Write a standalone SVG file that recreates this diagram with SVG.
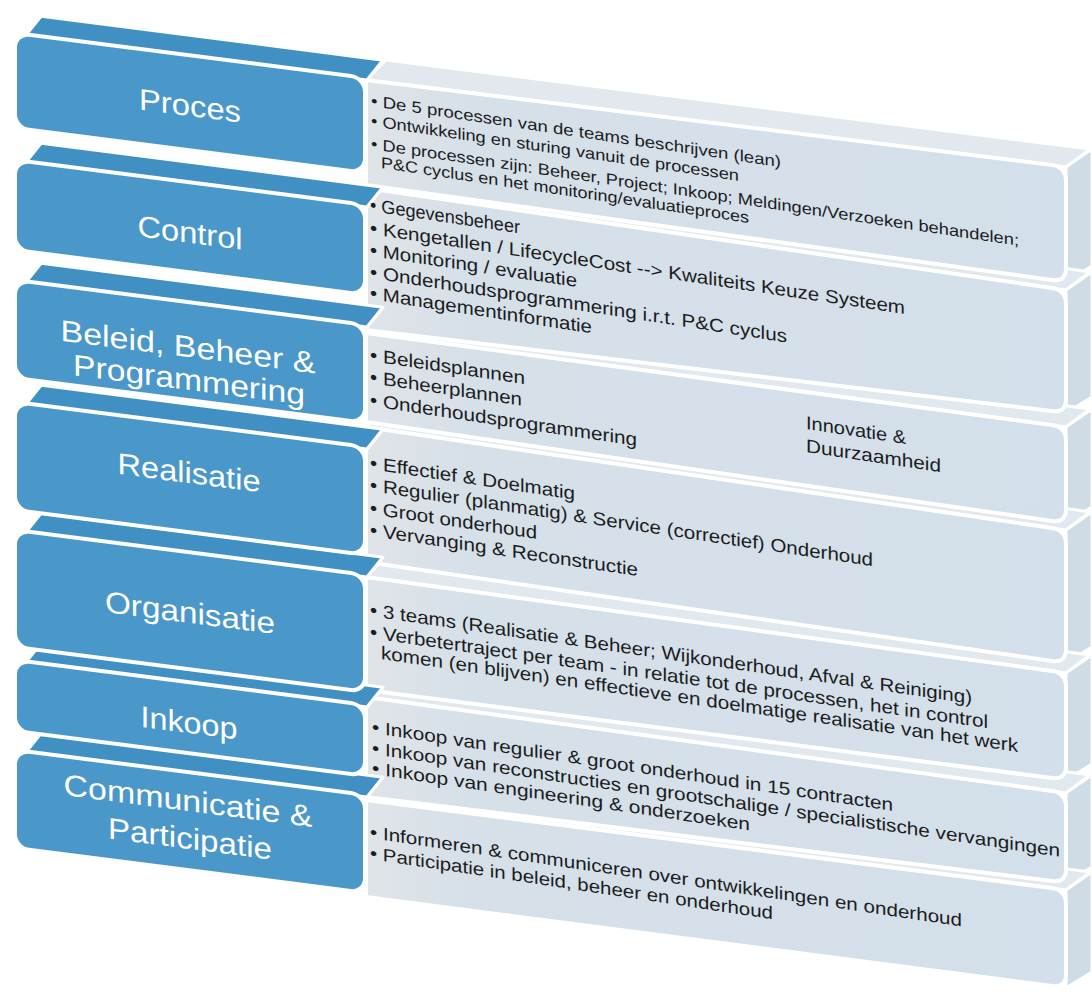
<svg xmlns="http://www.w3.org/2000/svg" width="1092" height="996" viewBox="0 0 1092 996">
<style>
.face{fill:#4a97c9;stroke:#fff;stroke-width:4;stroke-linejoin:round}
.top{fill:#4090c4;stroke:#fff;stroke-width:3;stroke-linejoin:round}
.lbl{font-family:"Liberation Sans",Arial,sans-serif;fill:#fff;font-size:30px;text-anchor:middle}
.pf{fill:url(#pg);stroke:#fff;stroke-width:4;stroke-linejoin:round}
.pt{fill:#e1e8ee;stroke:#fff;stroke-width:3;stroke-linejoin:round}
.ps{fill:#cfdbe5;stroke:#fff;stroke-width:3;stroke-linejoin:round}
.tx{font-family:"Liberation Sans",Arial,sans-serif;fill:#1c1c1c;font-size:18.5px}
.t15{font-size:16px}
.t17{font-size:18px}
</style>
<defs>
<linearGradient id="pg" x1="366" y1="0" x2="1066" y2="0" gradientUnits="userSpaceOnUse">
<stop offset="0" stop-color="#dfe4e8"/>
<stop offset="0.15" stop-color="#d6e0e9"/>
<stop offset="1" stop-color="#d3dfea"/>
</linearGradient>
</defs>

<g id="panel-faces">
<polygon class="pt" points="366,80 1066,167 1090,149 386,60"/>
<polygon class="ps" points="1066,167 1092,149 1092,266 1066,282"/>
<polygon class="pt" points="366,188 1066,290 1090,272 386,168"/>
<polygon class="ps" points="1066,290 1092,272 1092,397 1066,413"/>
<polygon class="pt" points="366,333 1066,427 1090,409 386,313"/>
<polygon class="ps" points="1066,427 1092,409 1092,507 1066,523"/>
<polygon class="pt" points="366,427 1066,530 1090,512 386,407"/>
<polygon class="ps" points="1066,530 1092,512 1092,647 1066,663"/>
<polygon class="pt" points="366,577 1066,673 1090,655 386,557"/>
<polygon class="ps" points="1066,673 1092,655 1092,764 1066,780"/>
<polygon class="pt" points="366,697 1066,793 1090,775 386,677"/>
<polygon class="ps" points="1066,793 1092,775 1092,867 1066,883"/>
<polygon class="pt" points="366,800 1066,890 1090,872 386,780"/>
<polygon class="ps" points="1066,890 1092,872 1092,972 1066,988"/>
</g>

<g id="panel-proces"><path class="pf" d="M366,80 L1052,165 Q1066,167 1066,181 L1066,268 Q1066,282 1052,280 L366,185 Z"/></g>
<g id="panel-control"><path class="pf" d="M366,188 L1052,288 Q1066,290 1066,304 L1066,399 Q1066,413 1052,411 L366,330 Z"/></g>
<g id="panel-beleid"><path class="pf" d="M366,333 L1052,425 Q1066,427 1066,441 L1066,509 Q1066,523 1052,521 L366,422 Z"/></g>
<g id="panel-realisatie"><path class="pf" d="M366,427 L1052,528 Q1066,530 1066,544 L1066,649 Q1066,663 1052,661 L366,562 Z"/></g>
<g id="panel-organisatie"><path class="pf" d="M366,577 L1052,671 Q1066,673 1066,687 L1066,766 Q1066,780 1052,778 L366,690 Z"/></g>
<g id="panel-inkoop"><path class="pf" d="M366,697 L1052,791 Q1066,793 1066,807 L1066,869 Q1066,883 1052,881 L366,797 Z"/></g>
<g id="panel-communicatie"><path class="pf" d="M366,800 L1052,888 Q1066,890 1066,904 L1066,974 Q1066,988 1052,986 L366,897 Z"/></g>

<g id="box-tops">
<polygon class="top" transform="translate(15,33) skewY(7.3)" points="10,2 352,2 368,-20 26,-20"/>
<polygon class="top" transform="translate(15,160) skewY(7.3)" points="10,2 352,2 368,-20 26,-20"/>
<polygon class="top" transform="translate(15,280) skewY(7.3)" points="10,2 352,2 368,-20 26,-20"/>
<polygon class="top" transform="translate(15,402) skewY(7.3)" points="10,2 352,2 368,-20 26,-20"/>
<polygon class="top" transform="translate(15,530) skewY(7.3)" points="10,2 352,2 368,-20 26,-20"/>
<polygon class="top" transform="translate(15,660) skewY(7.3)" points="10,2 352,2 368,-20 26,-20"/>
<polygon class="top" transform="translate(15,750) skewY(7.3)" points="10,2 352,2 368,-20 26,-20"/>
</g>

<g id="box-proces"><rect class="face" transform="translate(15,33) skewY(7.3)" width="350" height="95" rx="14"/>
<text class="lbl" transform="translate(190,116) skewY(7.3)" textLength="102" lengthAdjust="spacingAndGlyphs">Proces</text></g>
<g id="box-control"><rect class="face" transform="translate(15,160) skewY(7.3)" width="350" height="90" rx="14"/>
<text class="lbl" transform="translate(190,243) skewY(7.3)" textLength="105" lengthAdjust="spacingAndGlyphs">Control</text></g>
<g id="box-beleid"><rect class="face" transform="translate(15,280) skewY(7.3)" width="350" height="98" rx="14"/>
<text class="lbl" transform="translate(188,357) skewY(7.3)" textLength="255" lengthAdjust="spacingAndGlyphs">Beleid, Beheer &amp;</text>
<text class="lbl" transform="translate(189,390) skewY(7.3)" textLength="232" lengthAdjust="spacingAndGlyphs">Programmering</text></g>
<g id="box-realisatie"><rect class="face" transform="translate(15,402) skewY(7.3)" width="350" height="108" rx="14"/>
<text class="lbl" transform="translate(189,483) skewY(7.3)" textLength="143" lengthAdjust="spacingAndGlyphs">Realisatie</text></g>
<g id="box-organisatie"><rect class="face" transform="translate(15,530) skewY(7.3)" width="350" height="117" rx="14"/>
<text class="lbl" transform="translate(190,623) skewY(7.3)" textLength="170" lengthAdjust="spacingAndGlyphs">Organisatie</text></g>
<g id="box-inkoop"><rect class="face" transform="translate(15,660) skewY(7.3)" width="350" height="71" rx="14"/>
<text class="lbl" transform="translate(189,733) skewY(7.3)" textLength="97" lengthAdjust="spacingAndGlyphs">Inkoop</text></g>
<g id="box-communicatie"><rect class="face" transform="translate(15,750) skewY(7.3)" width="350" height="98" rx="14"/>
<text class="lbl" transform="translate(188,811) skewY(7.3)" textLength="249" lengthAdjust="spacingAndGlyphs">Communicatie &amp;</text>
<text class="lbl" transform="translate(190,849) skewY(7.3)" textLength="164" lengthAdjust="spacingAndGlyphs">Participatie</text></g>

<g id="text-proces" class="tx t15">
<text transform="translate(371,106) skewY(8.5)" textLength="410" lengthAdjust="spacingAndGlyphs">• De 5 processen van de teams beschrijven (lean)</text>
<text transform="translate(371,126) skewY(8.5)" textLength="368" lengthAdjust="spacingAndGlyphs">• Ontwikkeling  en sturing vanuit de processen</text>
<text transform="translate(371,149) skewY(8.5)" textLength="648" lengthAdjust="spacingAndGlyphs">• De processen zijn: Beheer, Project; Inkoop; Meldingen/Verzoeken  behandelen;</text>
<text transform="translate(381,168) skewY(8.5)" textLength="368" lengthAdjust="spacingAndGlyphs">P&amp;C cyclus en het monitoring/evaluatieproces</text>
</g>
<g id="text-control" class="tx">
<text transform="translate(370,211) skewY(8.5)" textLength="150" lengthAdjust="spacingAndGlyphs">• Gegevensbeheer</text>
<text transform="translate(370,234) skewY(8.5)" textLength="535" lengthAdjust="spacingAndGlyphs">• Kengetallen / LifecycleCost --&gt; Kwaliteits Keuze Systeem</text>
<text transform="translate(370,256) skewY(8.5)" textLength="207" lengthAdjust="spacingAndGlyphs">• Monitoring / evaluatie</text>
<text transform="translate(370,278) skewY(8.8)" textLength="417" lengthAdjust="spacingAndGlyphs">• Onderhoudsprogrammering i.r.t. P&amp;C cyclus</text>
<text transform="translate(370,299) skewY(8.8)" textLength="222" lengthAdjust="spacingAndGlyphs">• Managementinformatie</text>
</g>
<g id="text-beleid" class="tx">
<text transform="translate(370,361) skewY(8.5)" textLength="155" lengthAdjust="spacingAndGlyphs">• Beleidsplannen</text>
<text transform="translate(370,383) skewY(8.5)" textLength="152" lengthAdjust="spacingAndGlyphs">• Beheerplannen</text>
<text transform="translate(370,406) skewY(8.5)" textLength="267" lengthAdjust="spacingAndGlyphs">• Onderhoudsprogrammering</text>
<text transform="translate(806,429) skewY(8.5)" textLength="100" lengthAdjust="spacingAndGlyphs">Innovatie &amp;</text>
<text transform="translate(806,452) skewY(8.5)" textLength="135" lengthAdjust="spacingAndGlyphs">Duurzaamheid</text>
</g>
<g id="text-realisatie" class="tx">
<text transform="translate(370,469) skewY(8.5)" textLength="205" lengthAdjust="spacingAndGlyphs">• Effectief &amp; Doelmatig</text>
<text transform="translate(370,491) skewY(8.5)" textLength="503" lengthAdjust="spacingAndGlyphs">• Regulier (planmatig) &amp; Service (correctief) Onderhoud</text>
<text transform="translate(370,514) skewY(8.5)" textLength="167" lengthAdjust="spacingAndGlyphs">• Groot onderhoud</text>
<text transform="translate(370,536) skewY(8.5)" textLength="268" lengthAdjust="spacingAndGlyphs">• Vervanging &amp; Reconstructie</text>
</g>
<g id="text-organisatie" class="tx">
<text transform="translate(370,616) skewY(8.3)" textLength="602" lengthAdjust="spacingAndGlyphs">• 3 teams (Realisatie &amp; Beheer; Wijkonderhoud, Afval &amp; Reiniging)</text>
<text transform="translate(370,638) skewY(8.3)" textLength="618" lengthAdjust="spacingAndGlyphs">• Verbetertraject per team - in relatie tot de processen, het in control</text>
<text transform="translate(381,659) skewY(8.3)" textLength="637" lengthAdjust="spacingAndGlyphs">komen (en blijven) en effectieve en doelmatige realisatie van het werk</text>
</g>
<g id="text-inkoop" class="tx t17">
<text transform="translate(372,733) skewY(8.5)" textLength="521" lengthAdjust="spacingAndGlyphs">• Inkoop van regulier &amp; groot onderhoud in 15 contracten</text>
<text transform="translate(372,754) skewY(8.5)" textLength="688" lengthAdjust="spacingAndGlyphs">• Inkoop van reconstructies en grootschalige / specialistische vervangingen</text>
<text transform="translate(372,774) skewY(8.5)" textLength="378" lengthAdjust="spacingAndGlyphs">• Inkoop van engineering &amp; onderzoeken</text>
</g>
<g id="text-communicatie" class="tx t17">
<text transform="translate(370,838) skewY(8.5)" textLength="592" lengthAdjust="spacingAndGlyphs">• Informeren &amp; communiceren over ontwikkelingen en onderhoud</text>
<text transform="translate(370,859) skewY(8.5)" textLength="403" lengthAdjust="spacingAndGlyphs">• Participatie in beleid, beheer en onderhoud</text>
</g>
</svg>
